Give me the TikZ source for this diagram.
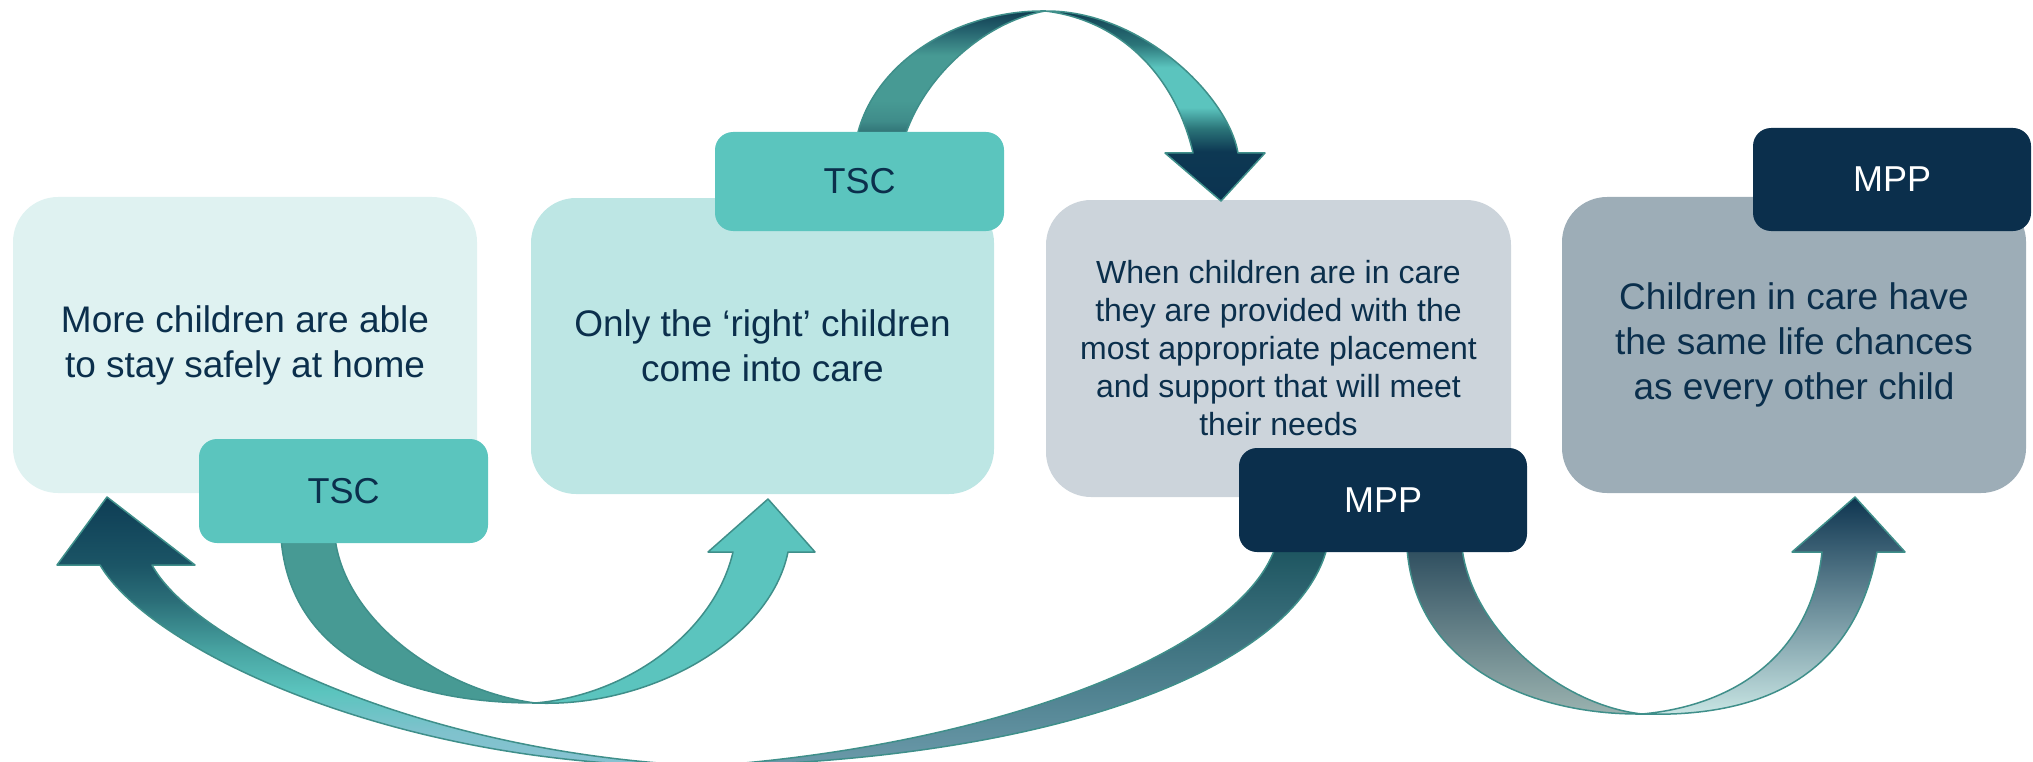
\documentclass[tikz,border=0pt]{standalone}
\usepackage{fontspec}
\setmainfont{Liberation Sans}
\definecolor{txt}{HTML}{0B2F4C}
\definecolor{bxa}{HTML}{DFF2F1}
\definecolor{bxb}{HTML}{BDE6E4}
\definecolor{bxc}{HTML}{CCD4DB}
\definecolor{bxd}{HTML}{9DADB7}
\definecolor{tsc}{HTML}{5BC5BE}
\definecolor{mpp}{HTML}{0B2F4C}
\definecolor{edge}{HTML}{3F8F8A}
\definecolor{tealA}{HTML}{479A94}
\definecolor{tealB}{HTML}{5BC4BE}
\definecolor{navyA}{HTML}{0F3B50}
\definecolor{navyB}{HTML}{0B3350}
\definecolor{navyC}{HTML}{0D3853}
\definecolor{midT}{HTML}{2B7579}
\definecolor{aTwoA}{HTML}{2C6C70}
\definecolor{aTwoB}{HTML}{3F8C8A}
\definecolor{aTwoC}{HTML}{25626E}
\definecolor{aThA}{HTML}{88C2D2}
\definecolor{aThB}{HTML}{7FC2CD}
\definecolor{aThC}{HTML}{48A4A2}
\definecolor{aThD}{HTML}{2B6E78}
\definecolor{aThE}{HTML}{1B5566}
\definecolor{aThF}{HTML}{0E3D55}
\definecolor{aThTop}{HTML}{1D5560}
\definecolor{aThBot}{HTML}{6B9AAA}
\definecolor{aFoTop}{HTML}{2E4E5F}
\definecolor{aFoMid}{HTML}{6A8A90}
\definecolor{aFoBot}{HTML}{9BB3B0}
\definecolor{aFrTop}{HTML}{0E3550}
\definecolor{aFrMid}{HTML}{5F8898}
\definecolor{aFrBot}{HTML}{CBE8E6}
\pgfdeclareverticalshading{atwol}{100bp}{color(0bp)=(aTwoA); color(25bp)=(aTwoA); color(31bp)=(aTwoB); color(39bp)=(tealA); color(57bp)=(tealA); color(67bp)=(aTwoC); color(75bp)=(navyA); color(100bp)=(navyA)}
\pgfdeclareverticalshading{atwor}{100bp}{color(0bp)=(navyB); color(25bp)=(navyB); color(38bp)=(navyC); color(44bp)=(midT); color(49.5bp)=(tealB); color(60bp)=(tealB); color(66bp)=(midT); color(75bp)=(navyA); color(100bp)=(navyA)}
\pgfdeclareverticalshading{athrl}{100bp}{color(0bp)=(aThA); color(25bp)=(aThA); color(32bp)=(aThB); color(39.4bp)=(tealB); color(46.8bp)=(aThC); color(56bp)=(aThD); color(62.5bp)=(aThE); color(75bp)=(aThF); color(100bp)=(aThF)}
\tikzset{
  bigbox/.style={rectangle, rounded corners=45pt, inner sep=0pt, align=center,
    text=txt, font=\fontsize{37}{45}\selectfont},
  tagbox/.style={rectangle, rounded corners=18pt, inner sep=0pt,
    font=\fontsize{36}{43}\selectfont},
  band/.style={draw=edge, line width=1.5pt, line join=round}
}
\begin{document}
\begin{tikzpicture}[x=1pt,y=-1pt]
\useasboundingbox (0,0) rectangle (2033,762);
\clip (0,0) rectangle (2033,762);
% main boxes
\node[bigbox, fill=bxa, minimum width=464pt, minimum height=296pt] (b1) at (245,345) {More children are able\\to stay safely at home};
\node[bigbox, fill=bxb, minimum width=463pt, minimum height=296pt] (b2) at (762.5,346) {Only the ‘right’ children\\come into care};
\node[bigbox, fill=bxc, minimum width=465pt, minimum height=297pt, font=\fontsize{32}{38}\selectfont] (b3) at (1278.5,348.5) {When children are in care\\they are provided with the\\most appropriate placement\\and support that will meet\\their needs};
\node[bigbox, fill=bxd, minimum width=464pt, minimum height=296pt] (b4) at (1794,345) {Children in care have\\the same life chances\\as every other child};
% arrow TSC -> box 2
\path[band, fill=tealA] (281,538) .. controls (290,655) and (400,703) .. (535,703) .. controls (440,690) and (345,620) .. (335,538) -- cycle;
\path[band, fill=tealB] (535,703) .. controls (650,708) and (770,640) .. (788,552) -- (815,552) -- (768,499) -- (708,552) -- (733,552) .. controls (715,630) and (630,695) .. (535,703) -- cycle;
% arrow TSC -> box 3 (top)
\path[band, shade, shading=atwol] (857,136) .. controls (875,60) and (960,10) .. (1045,11) .. controls (985,22) and (925,75) .. (905,136) -- cycle;
\path[band, shade, shading=atwor] (1045,11) .. controls (1140,10) and (1228,95) .. (1238,153) -- (1265,153) -- (1221,201) -- (1165,153) -- (1193,153) .. controls (1175,75) and (1120,20) .. (1045,11) -- cycle;
% arrow MPP -> box 1 (long)
\path[band, top color=aThTop, middle color=tealA, bottom color=aThBot] (1275,548) .. controls (1240,650) and (1000,745) .. (708,766) .. controls (1050,760) and (1295,670) .. (1327,548) -- cycle;
\path[band, shade, shading=athrl] (708,766) .. controls (400,770) and (150,650) .. (100,565) -- (57,565) -- (107,497) -- (195,565) -- (152,565) .. controls (195,645) and (430,755) .. (708,766) -- cycle;
% arrow MPP -> box 4
\path[band, top color=aFoTop, middle color=aFoMid, bottom color=aFoBot] (1407,548) .. controls (1415,665) and (1530,715) .. (1642,714) .. controls (1560,705) and (1472,630) .. (1462,548) -- cycle;
\path[band, top color=aFrTop, middle color=aFrMid, bottom color=aFrBot] (1642,714) .. controls (1770,718) and (1855,670) .. (1877,552) -- (1905,552) -- (1855,497) -- (1792,552) -- (1822,552) .. controls (1812,650) and (1740,705) .. (1642,714) -- cycle;
% tags
\node[tagbox, fill=tsc, text=txt, minimum width=289pt, minimum height=104pt] (t1) at (343.5,491) {TSC};
\node[tagbox, fill=tsc, text=txt, minimum width=289pt, minimum height=99pt] (t2) at (859.5,181.5) {TSC};
\node[tagbox, fill=mpp, text=white, minimum width=288pt, minimum height=104pt] (m3) at (1383,500) {MPP};
\node[tagbox, fill=mpp, text=white, minimum width=278pt, minimum height=103pt] (m4) at (1892,179.5) {MPP};
\end{tikzpicture}
\end{document}
